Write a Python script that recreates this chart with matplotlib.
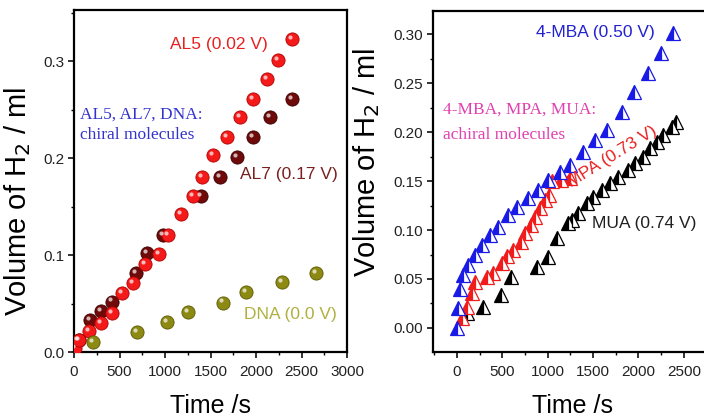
import matplotlib
matplotlib.use("Agg")
import matplotlib.pyplot as plt
import matplotlib.transforms as mtransforms
from matplotlib.ticker import MultipleLocator

plt.rcParams['font.family'] = ['Liberation Sans', 'DejaVu Sans']

# ---------------- data (left panel: chiral) ----------------
al5_t = [10, 50, 165, 300, 420, 530, 650, 780, 930, 1030, 1180, 1310, 1410, 1530, 1680, 1820, 1970, 2120, 2240, 2400]
al5_v = [0.004, 0.012, 0.022, 0.030, 0.040, 0.061, 0.071, 0.091, 0.101, 0.121, 0.142, 0.161, 0.180, 0.203, 0.222, 0.242, 0.261, 0.281, 0.301, 0.323]

al7_t = [60, 175, 300, 420, 680, 800, 980, 1400, 1600, 1790, 1970, 2150, 2400]
al7_v = [0.012, 0.033, 0.042, 0.052, 0.081, 0.102, 0.121, 0.161, 0.180, 0.201, 0.222, 0.242, 0.261]

dna_t = [210, 690, 1020, 1250, 1640, 1890, 2290, 2660]
dna_v = [0.010, 0.021, 0.031, 0.041, 0.051, 0.062, 0.072, 0.081]

# ---------------- data (right panel: achiral) ----------------
mba_t = [0, 10, 33, 66, 121, 199, 276, 364, 453, 563, 662, 784, 894, 1004, 1137, 1247, 1391, 1523, 1656, 1821, 1954, 2108, 2252, 2384]
mba_v = [0.000, 0.020, 0.040, 0.054, 0.064, 0.074, 0.085, 0.095, 0.103, 0.115, 0.123, 0.133, 0.141, 0.151, 0.159, 0.166, 0.180, 0.192, 0.202, 0.220, 0.241, 0.260, 0.281, 0.301]

mpa_t = [50, 110, 165, 200, 330, 400, 500, 550, 620, 700, 750, 810, 860, 920, 970, 1010, 1050, 1150, 1250]
mpa_v = [0.010, 0.021, 0.036, 0.047, 0.052, 0.056, 0.066, 0.073, 0.080, 0.088, 0.097, 0.105, 0.113, 0.122, 0.131, 0.136, 0.150, 0.151, 0.153]

mua_t = [110, 290, 480, 590, 880, 1000, 1100, 1220, 1270, 1330, 1435, 1500, 1600, 1690, 1780, 1880, 1965, 2050, 2130, 2210, 2275, 2370, 2410]
mua_v = [0.015, 0.021, 0.034, 0.052, 0.062, 0.072, 0.092, 0.107, 0.110, 0.117, 0.128, 0.134, 0.141, 0.148, 0.154, 0.161, 0.168, 0.174, 0.184, 0.190, 0.197, 0.205, 0.210]

left_xticks = [0, 500, 1000, 1500, 2000, 2500, 3000]
left_yticks = [0.0, 0.1, 0.2, 0.3]
left_ylabels = ['0.0', '0.1', '0.2', '0.3']
right_xticks = [0, 500, 1000, 1500, 2000, 2500]
right_yticks = [0.00, 0.05, 0.10, 0.15, 0.20, 0.25, 0.30]
right_ylabels = ['0.00', '0.05', '0.10', '0.15', '0.20', '0.25', '0.30']

fig = plt.figure(figsize=(7.04, 4.19), dpi=100)

axL = fig.add_axes([74/704, 67/419, 273/704, 342/419])
axR = fig.add_axes([433/704, 67/419, 278/704, 341/419])


def sphere(ax, t, v, color, edge):
    ax.plot(t, v, 'o', ms=9.5, mfc=color, mec=edge, mew=0.6, zorder=3)
    off = mtransforms.ScaledTranslation(-1.5/72, 1.5/72, fig.dpi_scale_trans)
    ax.plot(t, v, 'o', ms=3, mfc='white', mec='none', alpha=0.7,
            transform=ax.transData + off, zorder=4)


sphere(axL, al7_t, al7_v, '#6e0a0a', '#3a0000')
sphere(axL, al5_t, al5_v, '#f41a1a', '#b00000')
sphere(axL, dna_t, dna_v, '#8c8a12', '#5a5800')

axL.set_xlim(0, 3000)
axL.set_ylim(0, 0.3526)
axL.set_xticks(left_xticks)
axL.set_yticks(left_yticks)
axL.set_yticklabels(left_ylabels)
axL.xaxis.set_minor_locator(MultipleLocator(250))
axL.yaxis.set_minor_locator(MultipleLocator(0.05))

for t_, v_, c_ in [(mua_t, mua_v, '#000000'), (mpa_t, mpa_v, '#f01c1c'), (mba_t, mba_v, '#1a1ae6')]:
    axR.plot(t_, v_, '^', ms=9.5, fillstyle='left', mfc=c_, mfcalt='white',
             mec=c_, mew=0.9, zorder=3)

axR.set_xlim(-265, 2800)
axR.set_ylim(-0.0245, 0.3235)
axR.set_xticks(right_xticks)
axR.set_yticks(right_yticks)
axR.set_yticklabels(right_ylabels)
axR.xaxis.set_minor_locator(MultipleLocator(250))
axR.yaxis.set_minor_locator(MultipleLocator(0.025))

for ax in (axL, axR):
    for s in ax.spines.values():
        s.set_linewidth(1.6)
    ax.tick_params(which='major', direction='out', length=4, width=1.3, labelsize=11, pad=3, colors='#222222')
    ax.tick_params(which='minor', direction='out', length=2.5, width=1.0)
    ax.tick_params(axis='x', which='major', pad=5)
    ax.set_xlabel('Time /s', fontsize=18, labelpad=11)
    ax.set_ylabel('Volume of H$_2$ / ml', fontsize=21)

axL.yaxis.set_label_coords(-0.152, 0.44)
axR.yaxis.set_label_coords(-0.185, 0.555)

# annotations left
axL.text(0.711, 0.898, 'AL5 (0.02 V)', color='#e82020', fontsize=12.5, ha='right', va='center', transform=axL.transAxes)
axL.text(0.022, 0.693, 'AL5, AL7, DNA:', color='#3333cc', fontsize=12.5, family='Liberation Serif', ha='left', va='center', transform=axL.transAxes)
axL.text(0.022, 0.635, 'chiral molecules', color='#3333cc', fontsize=12.5, family='Liberation Serif', ha='left', va='center', transform=axL.transAxes)
axL.text(0.608, 0.520, 'AL7 (0.17 V)', color='#7a2020', fontsize=12.5, ha='left', va='center', transform=axL.transAxes)
axL.text(0.623, 0.111, 'DNA (0.0 V)', color='#b0b040', fontsize=12.5, ha='left', va='center', transform=axL.transAxes)

# annotations right
axR.text(0.799, 0.938, '4-MBA (0.50 V)', color='#2222d0', fontsize=12.5, ha='right', va='center', transform=axR.transAxes)
axR.text(0.036, 0.710, '4-MBA, MPA, MUA:', color='#e040b0', fontsize=12.5, family='Liberation Serif', ha='left', va='center', transform=axR.transAxes)
axR.text(0.036, 0.636, 'achiral molecules', color='#e040b0', fontsize=12.5, family='Liberation Serif', ha='left', va='center', transform=axR.transAxes)
axR.text(0.644, 0.572, 'MPA (0.73 V)', color='#e82020', fontsize=12.5, rotation=32, ha='center', va='center', transform=axR.transAxes, zorder=5)
axR.text(0.572, 0.378, 'MUA (0.74 V)', color='#202020', fontsize=12.5, ha='left', va='center', transform=axR.transAxes)

fig.savefig('out.png', dpi=100)
